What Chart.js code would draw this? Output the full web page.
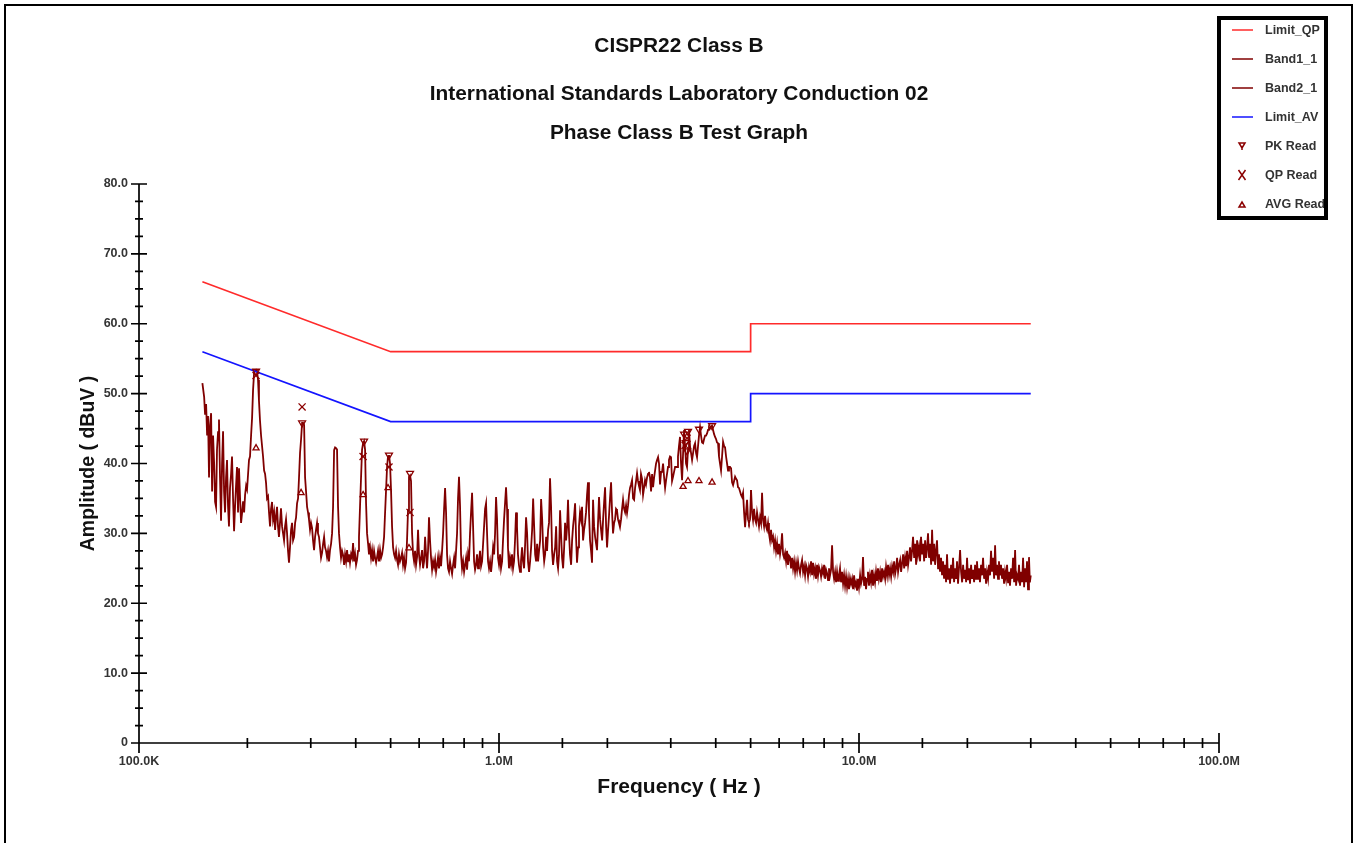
<!DOCTYPE html>
<html>
<head>
<meta charset="utf-8">
<title>CISPR22 Class B</title>
<script src="https://cdn.jsdelivr.net/npm/chart.js@4.4.1/dist/chart.umd.min.js"></script>
<style>
  html, body { margin: 0; padding: 0; background: #fff; overflow: hidden; }
  #wrap { position: relative; width: 1357px; height: 843px; }
  #frame { position: absolute; left: 4px; top: 4px; width: 1345px; height: 860px; border: 2px solid #000; pointer-events: none; }
  canvas { position: absolute; left: 0; top: 0; }
</style>
</head>
<body>
<div id="wrap"><canvas id="emc" width="1357" height="843"></canvas><div id="frame"></div></div>
<script>
// --- TEXT ---
const titleLines = ['CISPR22 Class B', 'International Standards Laboratory Conduction 02', 'Phase Class B Test Graph'];
const xTitle = 'Frequency ( Hz )';
const yTitle = 'Amplitude ( dBuV )';

// --- AXES (frequency in kHz) ---
const xDecades = [100, 1000, 10000, 100000];
const xDecadeLabels = ['100.0K', '1.0M', '10.0M', '100.0M'];
const yMin = 0, yMax = 80, yStep = 10, yMinorStep = 2.5;

// --- LIMITS [kHz, dBuV] ---
const limitQP = [[150, 66], [500, 56], [5000, 56], [5000, 60], [30000, 60]];
const limitAV = [[150, 56], [500, 46], [5000, 46], [5000, 50], [30000, 50]];

// --- MEASURED TRACE [kHz, dBuV] ---
const band1 = [
  [150,51.5],[151.7,49.5],[152.6,47.0],[153.6,48.5],[154.6,44.0],[155.5,46.8],[156.5,38.0],[157.5,45.5],[158.6,47.2],[159.6,36.0],
  [160.6,44.0],[161.7,40.0],[162.7,34.5],[163.7,33.8],[164.7,42.0],[165.8,44.5],[166.8,46.3],[167.9,38.0],[169,31.8],[170.1,40.0],
  [171.2,44.6],[172.3,36.0],[173.4,33.0],[174.5,38.0],[175.6,40.5],[176.7,34.0],[177.8,31.0],[179,36.5],[180.2,38.5],[181.3,41.0],
  [182.5,35.0],[183.7,30.3],[184.9,34.0],[186.1,37.0],[187.2,39.5],[188.4,33.0],[189.6,39.3],[190.9,35.0],[192.1,31.5],[193.4,33.0],
  [194.6,34.6],[195.9,33.0],[197.1,35.5],[198.4,36.8],[199.6,36.3],[200.9,38.5],[202.1,40.5],[203.4,41.0],[204.8,44.0],[206.1,46.5],
  [207.4,50.5],[208.8,53.0],[210.1,53.3],[211.4,53.4],[212.7,53.2],[214.1,52.0],[215.4,49.0],[216.8,46.2],[218.3,44.0],[219.7,42.5],
  [221.1,41.0],[222.6,39.0],[224,38.5],[225.4,37.2],[226.8,35.0],[228.3,35.3],[229.7,33.0],[231.2,31.0],[232.7,33.5],[234.2,34.5],
  [235.7,32.0],[237.3,33.0],[238.8,30.5],[240.3,32.5],[241.8,33.8],[243.3,31.0],[244.8,29.5],[246.4,31.5],[248,33.6],[249.7,31.0],
  [251.3,30.0],[252.9,29.0],[254.5,31.0],[256.1,32.0],[257.8,30.0],[259.4,27.5],[261,25.8],[262.7,28.0],[264.5,30.5],[266.2,31.5],
  [267.9,29.0],[269.7,29.5],[271.4,31.5],[273.1,32.3],[274.8,34.3],[276.6,35.0],[278.3,38.0],[280.1,41.5],[282,43.5],[283.8,45.8],
  [285.6,45.8],[287.5,45.5],[289.3,38.0],[291.1,36.0],[293,33.8],[294.8,33.0],[296.6,32.0],[298.6,30.5],[300.5,31.5],[302.5,30.8],
  [304.4,29.0],[306.4,27.6],[308.4,29.5],[310.3,30.5],[312.3,31.5],[314.2,30.0],[316.2,29.5],[318.3,28.0],[320.4,26.5],[322.5,27.2],
  [324.6,28.5],[326.7,29.5],[328.7,28.0],[330.8,27.5],[332.9,26.6],
  [335,27.5],[337.1,26.0],[339.3,27.6],[341.6,28.5],[343.8,30.0],[346,33.8],[348.3,41.9],[350.5,42.3],[352.7,42.2],[354.9,42.0],
  [357.2,33.8],[359.4,30.0],[361.8,28.0],[364.1,26.5],[366.5,27.5],[368.9,26.9],[371.3,25.5],[373.6,27.0],[376,26.0],[378.4,27.6],
  [380.7,26.0],[383.1,27.0],[385.6,25.8],[388.2,27.0],[390.7,26.5],[393.2,28.6],[395.8,26.0],[398.3,27.0],[400.8,25.5],[403.3,26.2],
  [405.9,27.5],[408.4,29.5],[411.1,33.8],[413.8,38.0],[416.5,42.0],[419.2,42.9],[421.9,43.2],[424.6,42.0],[427.3,34.3],[430,30.0],
  [432.7,28.6],[435.4,27.0],[438.3,28.0],[441.2,26.5],[444,27.6],[446.9,26.0],[449.8,27.5],[452.7,26.5],[455.6,25.8],[458.4,26.6],
  [461.3,27.5],[464.2,26.0],[467.3,27.6],[470.3,26.5],[473.4,27.0],[476.4,28.0],[479.5,29.5],[482.6,33.0],[485.6,36.2],[488.7,39.5],
  [491.7,41.0],[494.8,41.2],[498.1,40.0],[501.3,36.2],[504.6,31.0],[507.9,28.0],[511.2,27.0],[514.4,26.5],[517.7,27.5],[521,26.2],
  [524.2,25.5],[527.5,27.0],[531,26.0],[534.5,26.5],[537.9,27.2],[541.4,25.5],[544.9,26.5],[548.4,25.0],[551.9,25.8],[555.3,29.0],
  [558.8,33.3],[562.3,38.1],[566,38.3],[569.7,37.5],[573.5,30.0],[577.2,27.0],[580.9,26.0],[584.6,27.5],[588.3,25.5],[592.1,26.6],
  [595.8,30.5],[599.5,27.0],[603.5,25.5],[607.4,26.5],[611.4,27.6],[615.3,25.0],[619.3,26.0],[623.3,29.5],[627.2,27.0],[631.2,25.0],
  [635.1,27.5],[639.1,32.3],[643.3,29.0],[647.5,26.5],[651.8,24.8],[656,26.0],[660.2,25.2],[664.4,26.2],[668.6,24.5],[672.9,25.5],
  [677.1,26.6],[681.3,25.0],[685.8,26.5],[690.3,25.3],[694.8,27.5],[699.3,30.0],[703.8,33.5],[708.3,36.5],[712.8,33.0],[717.3,27.0],
  [721.8,25.0],[726.3,24.5],[731.1,26.0],[735.9,25.0],[740.7,24.2],[745.5,25.5],[750.3,26.5],[755.1,25.0],[759.9,27.5],[764.7,30.0],
  [769.5,35.0],[774.3,38.1],[779.4,34.0],[784.5,27.0],[789.6,25.0],[794.7,26.0],[799.9,24.5],[805,25.5],[810.1,26.5],[815.2,24.8],
  [820.3,27.0],[825.4,26.0],[830.9,30.0],[836.3,33.0],[841.8,35.8],[847.2,31.0],[852.7,26.0],[858.1,24.8],[863.6,25.5],[869,27.0],
  [874.5,25.0],[879.9,26.0],[885.7,27.5],[891.5,25.3],[897.4,26.0],[903.2,28.5],[909,31.0],[914.8,33.5],[920.6,34.3],[926.5,30.0],
  [932.3,26.0],[938.1,25.0],[944.3,26.0],[950.5,24.5],[956.7,26.0],[962.9,28.0],[969.1,27.0],[975.2,30.0],[981.4,35.2],[987.6,32.0],
  [993.8,26.5],[1000,25.5],
  [1007,27.0],[1013,25.0],[1020,26.0],[1026,29.0],[1033,32.0],[1040,34.5],[1046,36.6],[1053,33.5],[1059,28.0],[1066,25.0],
  [1073,26.5],[1080,25.5],[1087,27.0],[1094,25.0],[1101,26.0],[1108,29.0],[1115,33.0],[1122,31.0],[1129,27.0],[1136,25.5],
  [1144,24.5],[1151,26.0],[1159,28.0],[1166,26.0],[1174,25.0],[1182,28.5],[1189,32.3],[1197,30.0],[1204,26.0],[1212,24.5],
  [1220,26.0],[1228,28.0],[1236,30.5],[1244,35.0],[1252,31.0],[1260,27.0],[1268,26.0],[1276,28.5],[1284,26.0],[1292,27.5],
  [1301,29.0],[1309,34.9],[1318,32.0],[1326,28.0],[1335,26.0],[1343,27.0],[1352,29.5],[1360,27.5],[1369,30.5],[1377,31.5],
  [1386,37.9],[1395,34.0],[1404,27.5],[1413,25.5],[1423,27.0],[1432,28.0],[1441,31.0],[1450,26.0],[1459,25.0],[1468,27.0],
  [1478,33.3],[1487,30.0],[1497,26.5],[1507,25.0],[1517,28.0],[1526,31.5],[1536,29.0],[1546,31.0],[1555,34.8],[1565,30.0],
  [1575,27.0],[1586,25.5],[1596,29.0],[1606,31.0],[1617,32.5],[1627,34.3],[1637,29.5],[1647,25.8],[1658,28.0],[1668,31.0],
  [1679,33.0],[1690,32.0],[1701,33.8],[1712,29.0],[1723,30.5],[1734,31.5],[1745,33.0],[1756,35.5],[1767,37.3],[1778,33.0],
  [1790,29.0],[1802,27.5],[1813,25.8],[1825,34.8],[1837,31.0],[1849,29.5],[1861,28.5],[1872,27.6],[1884,31.5],[1896,35.2],
  [1909,32.0],[1921,30.5],[1934,29.0],[1946,32.0],[1959,34.5],[1971,36.6],[1984,31.0],[1996,28.0],[2009,30.5],[2021,32.5],
  [2034,35.0],[2048,37.3],[2061,33.0],[2074,30.0],[2088,31.5],[2101,32.0],[2114,33.5],[2127,33.3],[2141,32.0],[2154,31.5],
  [2168,30.9],[2183,32.0],[2197,33.5],[2211,34.8],[2226,33.5],[2240,33.0],[2254,34.0],[2268,32.9],[2283,34.0],[2297,35.5],
  [2312,36.5],[2327,37.0],[2342,37.6],[2357,35.0],[2373,34.8],[2388,36.5],[2403,37.5],[2418,38.6],[2433,37.5],[2448,36.8],
  [2464,36.2],[2480,38.5],[2497,37.8],[2513,35.5],[2529,36.5],[2545,37.6],[2561,37.0],[2578,38.0],[2594,38.5],[2610,38.8],
  [2627,38.0],[2645,36.0],[2662,38.5],[2679,36.6],[2697,38.0],[2714,39.0],[2731,40.0],[2748,40.5],[2766,40.9],[2783,40.0],
  [2801,37.0],[2820,38.8],[2838,38.8],[2856,40.0],[2875,38.0],[2893,36.5],[2911,37.6],[2929,38.5],[2948,39.5],[2966,40.5],
  [2986,41.0],[3005,40.9],[3025,37.5],[3044,38.1],[3064,38.8],[3084,39.5],[3103,39.5],[3123,39.5],[3142,41.0],[3162,42.5],
  [3183,43.8],[3204,40.0],[3225,37.6],[3246,41.5],[3267,44.8],[3287,42.5],[3308,40.0],[3329,39.5],[3350,42.0],[3371,44.8],
  [3393,42.5],[3416,41.5],[3438,40.5],[3460,41.5],[3483,42.5],[3505,42.9],[3527,41.5],[3549,40.9],[3572,42.5],[3594,44.0],
  [3618,45.2],[3641,44.0],[3665,43.0],[3689,42.9],[3713,43.5],[3736,44.0],[3760,44.0],[3784,44.3],[3807,44.8],[3831,45.2],
  [3856,45.0],[3882,45.3],[3907,45.4],[3932,44.8],[3958,44.2],[3983,43.8],[4008,43.5],[4033,43.0],[4059,42.9],[4084,41.0],
  [4111,40.0],[4138,39.0],[4165,41.0],[4192,43.1],[4219,42.5],[4246,42.3],[4273,41.0],[4300,40.0],[4327,39.0],[4354,39.5],
  [4383,39.5],[4412,39.3],[4440,37.3],[4469,36.9],[4498,37.5],[4527,38.1],[4556,37.8],[4584,37.6],[4613,36.6],[4642,36.5],
  [4673,36.0],[4703,35.5],[4734,35.2],[4764,35.8],[4795,33.0],[4826,30.9],[4856,33.0],[4887,34.8],[4917,32.0],[4948,31.5],
  [4981,32.0],[5013,36.2]
];
const band2 = [
  [5013,36.2],[5046,33.0],[5078,31.9],[5111,33.5],[5144,32.0],[5177,31.5],[5209,33.0],[5242,32.0],[5275,31.0],[5310,32.3],
  [5345,31.5],[5379,35.8],[5414,31.9],[5449,31.0],[5484,32.5],[5519,31.0],[5553,30.5],[5588,31.5],[5623,30.0],[5660,29.0],
  [5697,30.5],[5735,29.0],[5772,29.5],[5809,28.0],[5846,29.0],[5883,27.5],[5921,28.6],[5958,27.0],[5995,28.5],[6035,27.0],
  [6074,28.0],[6114,30.0],[6153,27.0],[6193,26.5],[6233,27.2],[6272,26.0],[6312,27.5],[6351,25.5],[6391,26.8],[6433,26.6],
  [6475,25.0],[6518,26.5],[6560,25.0],[6602,26.0],[6644,24.5],[6686,25.8],[6729,24.7],[6771,26.0],[6813,25.0],[6858,24.3],
  [6903,25.5],[6948,26.2],[6993,24.5],[7038,25.3],[7083,24.0],[7128,25.5],[7173,25.0],[7218,23.8],[7263,25.2],[7311,24.5],
  [7359,26.0],[7407,24.0],[7455,25.8],[7503,24.2],[7551,25.0],[7599,23.5],[7647,25.5],[7695,24.0],[7743,25.2],[7794,24.7],
  [7845,23.8],[7896,25.0],[7947,24.3],[7999,25.5],[8050,23.5],[8101,24.8],[8152,24.3],[8203,23.3],[8254,25.0],[8309,24.0],
  [8363,24.8],[8418,28.3],[8472,24.5],[8527,23.5],[8581,24.5],[8636,23.0],[8690,24.5],[8745,23.2],[8799,24.0],[8857,25.0],
  [8915,23.0],[8974,24.5],[9032,22.8],[9090,24.0],[9148,22.5],[9206,23.8],[9265,22.3],[9323,23.5],[9381,22.0],[9443,23.6],
  [9505,22.8],[9567,23.5],[9629,22.0],[9691,24.0],[9752,22.5],[9814,23.0],[9876,21.8],[9938,23.5],[10000,22.3],[10070,24.0],
  [10130,22.8],[10200,23.5],[10260,26.6],[10330,22.5],[10400,23.8],[10460,22.0],[10530,23.5],[10590,24.5],[10660,22.5],[10730,24.0],
  [10800,23.0],[10870,24.8],[10940,22.5],[11010,24.0],[11080,23.0],[11150,24.5],[11220,23.2],[11290,25.0],[11360,23.5],[11440,24.5],
  [11510,23.0],[11590,25.0],[11660,23.8],[11740,24.5],[11820,23.5],[11890,25.2],[11970,24.0],[12040,25.5],[12120,24.0],[12200,25.0],
  [12280,23.8],[12360,25.3],[12440,24.5],[12520,26.0],[12600,24.2],[12680,25.0],[12760,26.5],[12840,24.5],[12920,25.5],[13010,26.2],
  [13090,24.5],[13180,25.8],[13260,27.0],[13350,25.0],[13430,26.5],[13520,25.3],[13600,27.5],[13690,25.5],[13770,26.5],[13860,28.0],
  [13950,26.0],[14040,27.5],[14130,29.5],[14230,26.5],[14320,28.5],[14410,25.5],[14500,29.0],[14590,27.0],[14680,28.0],[14780,26.0],
  [14870,29.5],[14970,27.0],[15070,28.5],[15170,26.0],[15260,29.0],[15360,26.5],[15460,28.0],[15550,30.0],[15650,26.5],[15750,28.5],
  [15860,25.5],[15960,30.5],[16060,26.0],[16170,28.5],[16270,25.5],[16370,27.5],[16470,29.0],[16580,25.0],[16680,27.0],[16790,24.5],
  [16900,26.5],[17010,24.0],[17120,26.0],[17230,23.5],[17340,25.5],[17450,23.0],[17560,27.0],[17670,23.5],[17780,25.0],[17900,22.8],
  [18020,25.5],[18130,23.5],[18250,26.5],[18370,23.0],[18490,25.0],[18610,23.5],[18720,26.0],[18840,22.8],[18960,25.0],[19090,27.6],
  [19210,24.5],[19340,23.0],[19460,25.5],[19590,23.5],[19710,24.8],[19840,23.0],[19960,26.5],[20090,23.3],[20210,25.0],[20340,22.8],
  [20480,25.5],[20610,23.5],[20740,24.8],[20880,23.0],[21010,25.5],[21140,23.5],[21270,26.0],[21410,23.5],[21540,25.0],[21680,23.0],
  [21830,25.5],[21970,24.0],[22110,26.5],[22260,23.5],[22400,25.0],[22540,22.8],[22680,24.5],[22830,23.5],[22970,25.5],[23120,24.0],
  [23270,27.5],[23420,24.5],[23570,26.5],[23730,23.5],[23880,28.3],[24030,24.0],[24180,25.5],[24330,23.5],[24480,26.0],[24640,24.0],
  [24800,25.5],[24970,23.5],[25130,25.0],[25290,22.8],[25450,24.5],[25610,23.5],[25780,25.5],[25940,23.0],[26100,24.5],[26270,22.5],
  [26450,25.0],[26620,23.5],[26790,26.5],[26970,23.0],[27140,27.6],[27310,22.5],[27480,24.0],[27660,23.5],[27830,25.5],[28010,22.5],
  [28200,24.5],[28380,23.0],[28560,26.5],[28750,22.3],[28930,25.0],[29110,23.0],[29290,26.0],[29480,22.0],[29660,26.6],[29830,23.0],
  [30000,24.0]
];

// --- FINAL READINGS [kHz, dBuV] ---
const pkRead = [[211.4,53.2],[283.8,45.8],[421.9,43.2],[494.8,41.2],[566,38.6],[3267,44.2],[3300,43.0],[3329,41.8],[3350,44.6],[3594,44.9],[3907,45.4]];
const qpRead = [[211.4,52.6],[283.8,48.1],[419.2,41.0],[494.8,39.5],[566,33.0],[3287,42.6],[3329,43.6]];
const avgRead = [[211.4,42.2],[282,35.8],[419.2,35.5],[491.7,36.5],[562.3,27.9],[3246,36.7],[3350,37.5],[3594,37.5],[3907,37.3]];

const FONT = "'Liberation Sans', Arial, sans-serif";
const toXY = arr => arr.map(([f, a]) => ({ x: f, y: a }));
const isDecade = v => Math.abs(Math.log10(v) - Math.round(Math.log10(v))) < 1e-6;

// titles at the top, drawn slightly wide like the original printout
const titlePlugin = {
    id: 'titles',
    afterDraw(chart) {
        const { ctx, chartArea } = chart;
        const cx = (chartArea.left + chartArea.right) / 2;
        const baselines = [51.5, 100, 138.5];
        ctx.save();
        ctx.fillStyle = '#111';
        ctx.font = 'bold 19.5px ' + FONT;
        ctx.textAlign = 'center';
        ctx.textBaseline = 'alphabetic';
        titleLines.forEach((t, i) => {
            ctx.save();
            ctx.translate(cx, baselines[i]);
            ctx.scale(1.07, 1);
            ctx.fillText(t, 0, 0);
            ctx.restore();
        });
        ctx.restore();
    }
};

// axis lines + crossing tick marks
const axisPlugin = {
    id: 'axisDeco',
    afterDraw(chart) {
        const { ctx, scales: { x, y } } = chart;
        ctx.save();
        ctx.strokeStyle = '#000';
        ctx.lineWidth = 1.7;
        ctx.beginPath();
        ctx.moveTo(x.left, y.top); ctx.lineTo(x.left, y.bottom);
        ctx.moveTo(x.left, y.bottom); ctx.lineTo(x.right, y.bottom);
        for (let v = yMin; v <= yMax + 1e-9; v += yMinorStep) {
            const py = y.getPixelForValue(v);
            const len = (v % yStep === 0) ? 8 : 4;
            ctx.moveTo(x.left - len, py); ctx.lineTo(x.left + len, py);
        }
        x.ticks.forEach(t => {
            const px = x.getPixelForValue(t.value);
            const len = isDecade(t.value) ? 10 : 5;
            ctx.moveTo(px, y.bottom - len); ctx.lineTo(px, y.bottom + len);
        });
        ctx.stroke();
        ctx.restore();
    }
};

function drawMark(ctx, kind, x, y) {
    ctx.beginPath();
    if (kind === 'pk') {
        ctx.moveTo(x - 3, y - 3); ctx.lineTo(x + 3, y - 3); ctx.lineTo(x, y + 2); ctx.closePath();
        ctx.moveTo(x, y + 2); ctx.lineTo(x, y + 4);
    } else if (kind === 'qp') {
        ctx.moveTo(x - 3.5, y - 5); ctx.lineTo(x + 3.5, y + 5);
        ctx.moveTo(x + 3.5, y - 5); ctx.lineTo(x - 3.5, y + 5);
    } else {
        ctx.moveTo(x - 3, y + 3); ctx.lineTo(x + 3, y + 3); ctx.lineTo(x, y - 2); ctx.closePath();
    }
    ctx.stroke();
}

// boxed legend in the top right corner
const legendPlugin = {
    id: 'boxLegend',
    afterDraw(chart) {
        const { ctx } = chart;
        const bx = 1219, by = 18, bw = 107, bh = 200;
        ctx.save();
        ctx.fillStyle = '#fff';
        ctx.fillRect(bx, by, bw, bh);
        ctx.lineWidth = 4;
        ctx.strokeStyle = '#000';
        ctx.strokeRect(bx, by, bw, bh);
        ctx.beginPath();
        ctx.rect(bx + 2, by + 2, bw - 4, bh - 4);
        ctx.clip();
        ctx.font = 'bold 12.5px ' + FONT;
        ctx.textBaseline = 'middle';
        ctx.textAlign = 'left';
        chart.data.datasets.forEach((ds, i) => {
            const ry = 30 + i * 29;
            ctx.strokeStyle = ds.borderColor;
            ctx.lineWidth = 1.5;
            if (ds.mark) {
                drawMark(ctx, ds.mark, 1242, ry);
            } else {
                ctx.beginPath();
                ctx.moveTo(1232, ry); ctx.lineTo(1253, ry);
                ctx.stroke();
            }
            ctx.fillStyle = '#333';
            ctx.fillText(ds.label, 1265, ry + 0.5);
        });
        ctx.restore();
    }
};

const lineSet = (label, data, color, width, order) => ({
    label, data: toXY(data), borderColor: color, backgroundColor: color,
    borderWidth: width, showLine: true, pointRadius: 0, tension: 0, order
});
const markSet = (label, data, mark, style, rotation, radius) => ({
    label, data: toXY(data), mark, borderColor: '#8b0000', backgroundColor: 'rgba(255,255,255,0)',
    pointStyle: style, rotation, pointRadius: radius, borderWidth: 1.3, showLine: false, order: 0
});

new Chart(document.getElementById('emc'), {
    type: 'scatter',
    data: {
        datasets: [
            lineSet('Limit_QP', limitQP, '#ff2b2b', 1.7, 1),
            lineSet('Band1_1', band1, '#800000', 1.8, 2),
            lineSet('Band2_1', band2, '#800000', 1.8, 2),
            lineSet('Limit_AV', limitAV, '#1414ff', 1.7, 1),
            markSet('PK Read', pkRead, 'pk', 'triangle', 180, 4),
            markSet('QP Read', qpRead, 'qp', 'crossRot', 0, 5),
            markSet('AVG Read', avgRead, 'avg', 'triangle', 0, 3.5)
        ]
    },
    options: {
        responsive: false,
        devicePixelRatio: 1,
        animation: false,
        events: [],
        layout: { padding: { left: 0, top: 184, right: 138, bottom: 0 } },
        plugins: { legend: { display: false }, tooltip: { enabled: false }, title: { display: false } },
        scales: {
            x: {
                type: 'logarithmic',
                min: xDecades[0],
                max: xDecades[xDecades.length - 1],
                grid: { display: false, drawTicks: false },
                border: { display: false },
                ticks: {
                    autoSkip: false, maxRotation: 0, minRotation: 0, padding: 11,
                    color: '#333', font: { family: FONT, size: 12.5, weight: 'bold' },
                    callback: v => {
                        const i = xDecades.findIndex(d => Math.abs(d - v) < 1e-6 * d);
                        return i >= 0 ? xDecadeLabels[i] : '';
                    }
                },
                title: {
                    display: true, text: xTitle, color: '#111',
                    font: { family: FONT, size: 21, weight: 'bold' },
                    padding: { top: 0, bottom: 43 }
                },
                afterFit: s => { s.height = 100; s.paddingLeft = 0; s.paddingRight = 0; }
            },
            y: {
                type: 'linear',
                min: yMin, max: yMax,
                grid: { display: false, drawTicks: false },
                border: { display: false },
                ticks: {
                    stepSize: yStep, padding: 11,
                    color: '#333', font: { family: FONT, size: 12.5, weight: 'bold' },
                    callback: v => v === 0 ? '0' : v.toFixed(1)
                },
                title: {
                    display: true, text: yTitle, color: '#111',
                    font: { family: FONT, size: 19.5, weight: 'bold' },
                    padding: { top: 77, bottom: 0 }
                },
                afterFit: s => { s.width = 139; s.paddingTop = 0; s.paddingBottom = 0; }
            }
        }
    },
    plugins: [titlePlugin, axisPlugin, legendPlugin]
});
</script>
</body>
</html>
